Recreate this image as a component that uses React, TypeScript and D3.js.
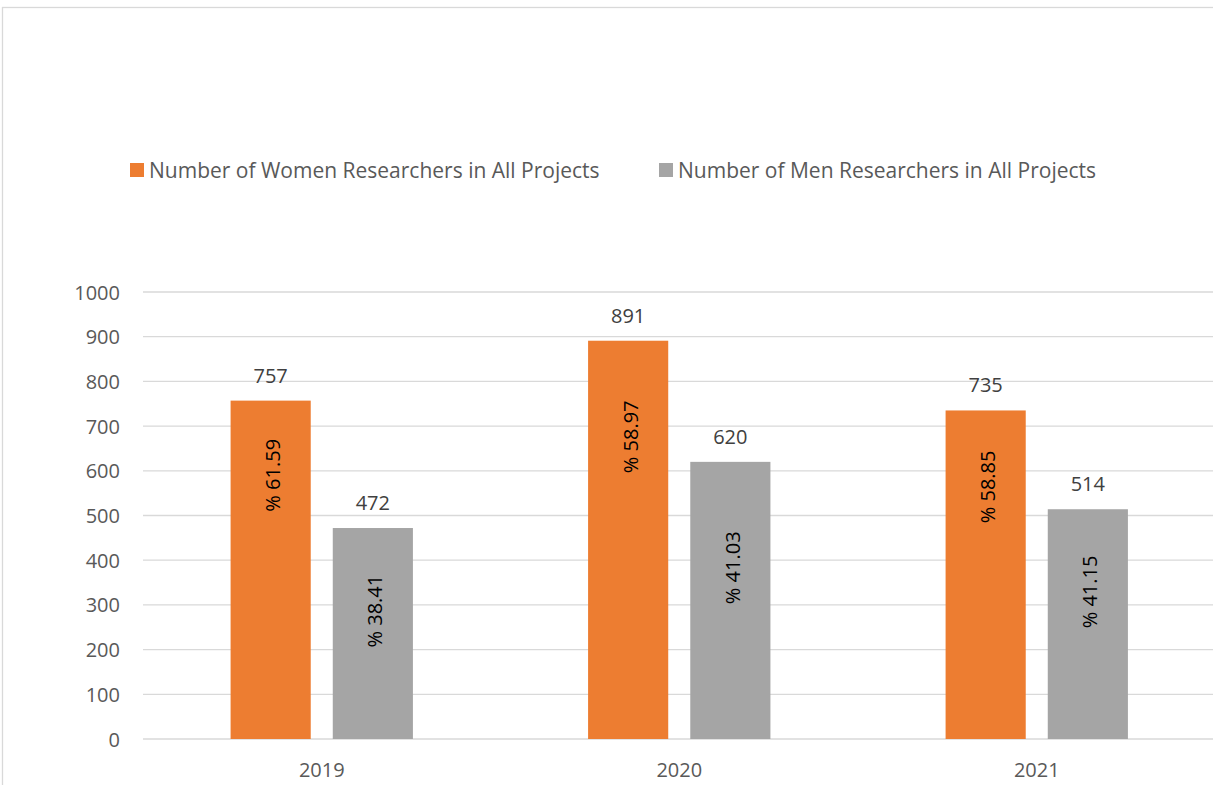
import * as d3 from "d3";
import { useEffect, useRef } from "react";

const years = ["2019", "2020", "2021"];
const series = [
    "Number of Women Researchers in All Projects",
    "Number of Men Researchers in All Projects",
];
const women = [757, 891, 735];
const men = [472, 620, 514];
const womenPct = ["% 61.59", "% 58.97", "% 58.85"];
const menPct = ["% 38.41", "% 41.03", "% 41.15"];
// where the rotated percent labels sit (value units), they were placed by hand
const womenPctAt = [590, 676, 564];
const menPctAt = [286, 383, 329];
const yTicks = [0, 100, 200, 300, 400, 500, 600, 700, 800, 900, 1000];

const colors = ["#ED7D31", "#A5A5A5"];

export default function App() {
    const svgRef = useRef<SVGSVGElement>(null);

    const width = 1213;
    const height = 785;

    const font = "'Open Sans', 'DejaVu Sans', sans-serif";

    useEffect(() => {
        const svg = d3.select(svgRef.current);
        svg.selectAll('*').remove();

        // outer chart frame
        svg.append('rect')
            .attr('x', 2.5)
            .attr('y', 7.5)
            .attr('width', width + 10)
            .attr('height', height + 10)
            .attr('fill', '#fff')
            .attr('stroke', '#D9D9D9')
            .attr('stroke-width', 1.3);

        const x0 = d3.scaleBand()
            .domain(years)
            .range([143, 1215.5])
            .paddingInner(0.49)
            .paddingOuter(0.245);

        const x1 = d3.scaleBand()
            .domain(series)
            .range([0, x0.bandwidth()])
            .paddingInner(22 / 102);

        const y = d3.scaleLinear()
            .domain([0, 1000])
            .range([739, 292]);

        // gridlines
        svg.append('g')
            .selectAll('line')
            .data(yTicks)
            .join('line')
            .attr('x1', 143)
            .attr('x2', width)
            .attr('y1', d => y(d))
            .attr('y2', d => y(d))
            .attr('stroke', '#D9D9D9')
            .attr('stroke-width', 1.3);

        // y tick labels
        svg.append('g')
            .selectAll('text')
            .data(yTicks)
            .join('text')
            .attr('x', 120)
            .attr('y', d => y(d))
            .attr('text-anchor', 'end')
            .attr('dominant-baseline', 'central')
            .attr('font-family', font)
            .attr('font-size', 20)
            .attr('fill', '#595959')
            .text(d => d);

        // category labels
        svg.append('g')
            .selectAll('text')
            .data(years)
            .join('text')
            .attr('x', d => x0(d)! + x0.bandwidth() / 2)
            .attr('y', 769)
            .attr('text-anchor', 'middle')
            .attr('dominant-baseline', 'central')
            .attr('font-family', font)
            .attr('font-size', 20)
            .attr('fill', '#595959')
            .text(d => d);

        const rows = [
            { name: series[0], values: women, pct: womenPct, at: womenPctAt, color: colors[0] },
            { name: series[1], values: men, pct: menPct, at: menPctAt, color: colors[1] },
        ];

        rows.forEach(row => {
            const g = svg.append('g');
            const items = years.map((yr, i) => ({ yr, v: row.values[i], p: row.pct[i], at: row.at[i] }));

            g.selectAll('rect')
                .data(items)
                .join('rect')
                .attr('x', d => x0(d.yr)! + x1(row.name)!)
                .attr('y', d => y(d.v))
                .attr('width', x1.bandwidth())
                .attr('height', d => y(0) - y(d.v))
                .attr('fill', row.color);

            // value above bar
            g.selectAll('text.val')
                .data(items)
                .join('text')
                .attr('class', 'val')
                .attr('x', d => x0(d.yr)! + x1(row.name)! + x1.bandwidth() / 2)
                .attr('y', d => y(d.v) - 18)
                .attr('text-anchor', 'middle')
                .attr('font-family', font)
                .attr('font-size', 20)
                .attr('fill', '#404040')
                .text(d => d.v);

            // rotated percent inside bar
            g.selectAll('text.pct')
                .data(items)
                .join('text')
                .attr('class', 'pct')
                .attr('transform', d => `translate(${x0(d.yr)! + x1(row.name)! + x1.bandwidth() / 2 + 2},${y(d.at)}) rotate(-90)`)
                .attr('text-anchor', 'middle')
                .attr('dominant-baseline', 'central')
                .attr('font-family', font)
                .attr('font-size', 20)
                .attr('fill', '#000')
                .text(d => d.p);
        });

        // legend
        const legendX = [130, 659];
        const legend = svg.append('g');
        series.forEach((s, i) => {
            legend.append('rect')
                .attr('x', legendX[i])
                .attr('y', 163)
                .attr('width', 14)
                .attr('height', 14)
                .attr('fill', colors[i]);
            legend.append('text')
                .attr('x', legendX[i] + 19)
                .attr('y', 170)
                .attr('dominant-baseline', 'central')
                .attr('font-family', font)
                .attr('font-size', 21)
                .attr('fill', '#595959')
                .text(s);
        });
    }, []);

    return (
        <svg ref={svgRef} width={width} height={height}
            style={{ position: 'absolute', left: 0, top: 0, background: '#fff' }}>
        </svg>
    );
}
